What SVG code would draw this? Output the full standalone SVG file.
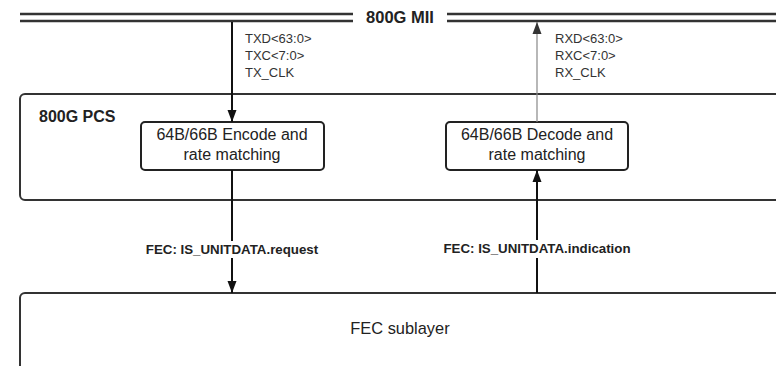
<svg xmlns="http://www.w3.org/2000/svg" width="776" height="366" viewBox="0 0 776 366">
<defs>
<style>
.box{fill:#fff;stroke:#333;stroke-width:2}
.sub{fill:#fff;stroke:#222;stroke-width:2}
.t{font-family:"Liberation Sans",Arial,sans-serif;fill:#222}
.sig{font-family:"Liberation Sans",Arial,sans-serif;font-size:13px;fill:#333}
.lbl{font-family:"Liberation Sans",Arial,sans-serif;font-size:13.3px;font-weight:bold;fill:#222}
.bus{stroke:#333;stroke-width:2.5;fill:none}
.wire{stroke:#111;stroke-width:2;fill:none}
</style>
<marker id="ah" viewBox="0 0 10 10" refX="10" refY="5" markerWidth="12" markerHeight="9" preserveAspectRatio="none" markerUnits="userSpaceOnUse" orient="auto" overflow="visible">
<path d="M0,0 L10,5 L0,10 z" fill="#111"/>
</marker>
<marker id="ahg" viewBox="0 0 10 10" refX="10" refY="5" markerWidth="12" markerHeight="9" preserveAspectRatio="none" markerUnits="userSpaceOnUse" orient="auto" overflow="visible">
<path d="M0,0 L10,5 L0,10 z" fill="#333"/>
</marker>
</defs>
<rect width="776" height="366" fill="#fff"/>

<g id="mii">
<path class="bus" d="M20,14 H353 M20,21 H353 M447,14 H776 M447,21 H776"/>
<text class="t" x="400" y="23" font-size="16.5" font-weight="bold" text-anchor="middle">800G MII</text>
</g>

<g id="pcs">
<rect class="box" x="20" y="94" width="790" height="106" rx="5"/>
<text class="t" x="39" y="122" font-size="16" font-weight="bold">800G PCS</text>
</g>

<g id="encode">
<rect class="sub" x="141" y="122" width="183" height="48" rx="4"/>
<text class="t" x="232" y="140" font-size="16" text-anchor="middle">64B/66B Encode and</text>
<text class="t" x="232" y="160" font-size="16" text-anchor="middle">rate matching</text>
</g>

<g id="decode">
<rect class="sub" x="446" y="122" width="182" height="48" rx="4"/>
<text class="t" x="537" y="140" font-size="16" text-anchor="middle">64B/66B Decode and</text>
<text class="t" x="537" y="160" font-size="16" text-anchor="middle">rate matching</text>
</g>

<g id="fec">
<rect class="box" x="20" y="293" width="790" height="100" rx="5"/>
<text class="t" x="400" y="334" font-size="16.4" text-anchor="middle">FEC sublayer</text>
</g>

<g id="connectors">
<line class="wire" x1="232" y1="22" x2="232" y2="122" marker-end="url(#ah)"/>
<line x1="537" y1="122" x2="537" y2="22" stroke="#888" stroke-width="1.2" marker-end="url(#ahg)"/>
<line class="wire" x1="232" y1="170" x2="232" y2="241"/>
<line class="wire" x1="232" y1="258" x2="232" y2="293" marker-end="url(#ah)"/>
<line class="wire" x1="537" y1="293" x2="537" y2="258"/>
<line class="wire" x1="537" y1="240" x2="537" y2="170" marker-end="url(#ah)"/>
<text class="sig" x="245" y="43">TXD&lt;63:0&gt;</text>
<text class="sig" x="245" y="60">TXC&lt;7:0&gt;</text>
<text class="sig" x="245" y="77">TX_CLK</text>
<text class="sig" x="555" y="43">RXD&lt;63:0&gt;</text>
<text class="sig" x="555" y="60">RXC&lt;7:0&gt;</text>
<text class="sig" x="555" y="77">RX_CLK</text>
<text class="lbl" x="232" y="254" text-anchor="middle">FEC: IS_UNITDATA.request</text>
<text class="lbl" x="537" y="253" text-anchor="middle">FEC: IS_UNITDATA.indication</text>
</g>
</svg>
